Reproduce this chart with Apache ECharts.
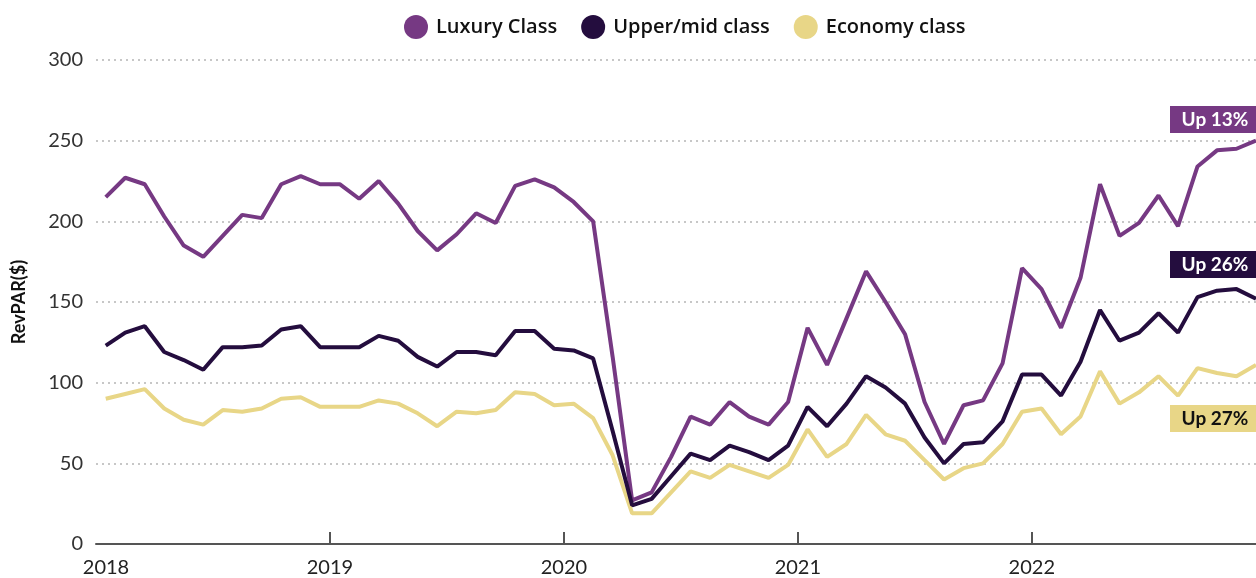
<!DOCTYPE html>
<html>
<head>
<meta charset="utf-8">
<title>RevPAR by class</title>
<script src="https://cdn.jsdelivr.net/npm/echarts@6/dist/echarts.min.js"></script>
<style>
  html, body { margin: 0; padding: 0; background: #fff; }
  #chart { width: 1256px; height: 578px; }
</style>
</head>
<body>
<div id="chart"></div>
<script>
// monthly RevPAR, Jan 2018 .. Dec 2022
var startYear = 2018;
var yearTicks = [2018, 2019, 2020, 2021, 2022];

var luxury = [
  215, 227, 223, 203, 185, 178, 191, 204, 202, 223, 228, 223,
  223, 214, 225, 211, 194, 182, 192, 205, 199, 222, 226, 221,
  212, 200, 116, 27, 32, 54, 79, 74, 88, 79, 74, 88,
  134, 111, 140, 169, 150, 130, 88, 62, 86, 89, 112, 171,
  158, 134, 165, 223, 191, 199, 216, 197, 234, 244, 245, 250
];
var upperMid = [
  123, 131, 135, 119, 114, 108, 122, 122, 123, 133, 135, 122,
  122, 122, 129, 126, 116, 110, 119, 119, 117, 132, 132, 121,
  120, 115, 70, 24, 28, 42, 56, 52, 61, 57, 52, 61,
  85, 73, 87, 104, 97, 87, 66, 50, 62, 63, 76, 105,
  105, 92, 113, 145, 126, 131, 143, 131, 153, 157, 158, 152
];
var economy = [
  90, 93, 96, 84, 77, 74, 83, 82, 84, 90, 91, 85,
  85, 85, 89, 87, 81, 73, 82, 81, 83, 94, 93, 86,
  87, 78, 55, 19, 19, 32, 45, 41, 49, 45, 41, 49,
  71, 54, 62, 80, 68, 64, 52, 40, 47, 50, 62, 82,
  84, 68, 79, 107, 87, 94, 104, 92, 109, 106, 104, 111
];

var seriesNames = ['Luxury Class', 'Upper/mid class', 'Economy class'];
var changeLabels = ['Up 13%', 'Up 26%', 'Up 27%'];

var colors = {
  lux: '#763983',
  mid: '#240d3e',
  eco: '#e8d687'
};

// place each month at its middle
function toPoints(arr) {
  return arr.map(function (v, i) {
    return [startYear + (i + 0.5) / 12, v];
  });
}

var chart = echarts.init(document.getElementById('chart'));
var font = 'Lato, "Open Sans", sans-serif';
var wideFont = '"Open Sans", Lato, sans-serif';

function tag(text, top, bg, fg) {
  return {
    type: 'group',
    right: 0,
    top: top,
    children: [
      { type: 'rect', shape: { x: 0, y: 0, width: 86, height: 27 }, style: { fill: bg } },
      {
        type: 'text',
        x: 45, y: 14,
        style: {
          text: text, fill: fg, font: 'bold 19px ' + font,
          align: 'center', verticalAlign: 'middle'
        }
      }
    ]
  };
}

var option = {
  animation: false,
  textStyle: { fontFamily: font },
  legend: {
    data: seriesNames,
    left: 404,
    top: 15,
    padding: 0,
    icon: 'circle',
    itemWidth: 24,
    itemHeight: 24,
    itemGap: 24,
    textStyle: {
      fontFamily: wideFont,
      fontSize: 20,
      fontWeight: 600,
      color: '#111',
      padding: [0, 0, 0, 3]
    }
  },
  grid: { left: 96, right: 0, top: 60, bottom: 34 },
  xAxis: {
    type: 'value',
    min: startYear,
    max: startYear + 59.5 / 12,
    interval: 1,
    splitLine: { show: false },
    axisLine: { lineStyle: { color: '#555', width: 2 } },
    axisTick: {
      show: true,
      inside: true,
      length: 12,
      customValues: [2019, 2020, 2021, 2022],
      lineStyle: { color: '#555', width: 2 }
    },
    axisLabel: {
      customValues: yearTicks,
      margin: 14,
      fontSize: 20,
      color: '#222',
      formatter: function (v) {
        return v === startYear ? '{first|' + v + '}' : String(v);
      },
      rich: {
        first: { fontSize: 20, color: '#222', padding: [0, 0, 0, 20] }
      }
    }
  },
  yAxis: {
    type: 'value',
    min: 0,
    max: 300,
    interval: 50,
    name: 'RevPAR($)',
    nameLocation: 'middle',
    nameGap: 68,
    nameTextStyle: { fontSize: 18, fontWeight: 'bold', color: '#111' },
    axisLine: { show: false },
    axisTick: { show: false },
    axisLabel: { margin: 13, fontSize: 20, color: '#333' },
    splitLine: {
      lineStyle: { color: '#b5b5b5', width: 1.5, type: [2, 4] }
    }
  },
  series: [
    {
      name: seriesNames[2],
      type: 'line',
      data: toPoints(economy),
      showSymbol: false,
      symbol: 'none',
      color: colors.eco,
      lineStyle: { width: 4, color: colors.eco }
    },
    {
      name: seriesNames[0],
      type: 'line',
      data: toPoints(luxury),
      showSymbol: false,
      symbol: 'none',
      color: colors.lux,
      lineStyle: { width: 4, color: colors.lux }
    },
    {
      name: seriesNames[1],
      type: 'line',
      data: toPoints(upperMid),
      showSymbol: false,
      symbol: 'none',
      color: colors.mid,
      lineStyle: { width: 4, color: colors.mid }
    }
  ],
  graphic: [
    tag(changeLabels[0], 106, colors.lux, '#fff'),
    tag(changeLabels[1], 251, colors.mid, '#fff'),
    tag(changeLabels[2], 405, colors.eco, '#111')
  ]
};

chart.setOption(option);
</script>
</body>
</html>
